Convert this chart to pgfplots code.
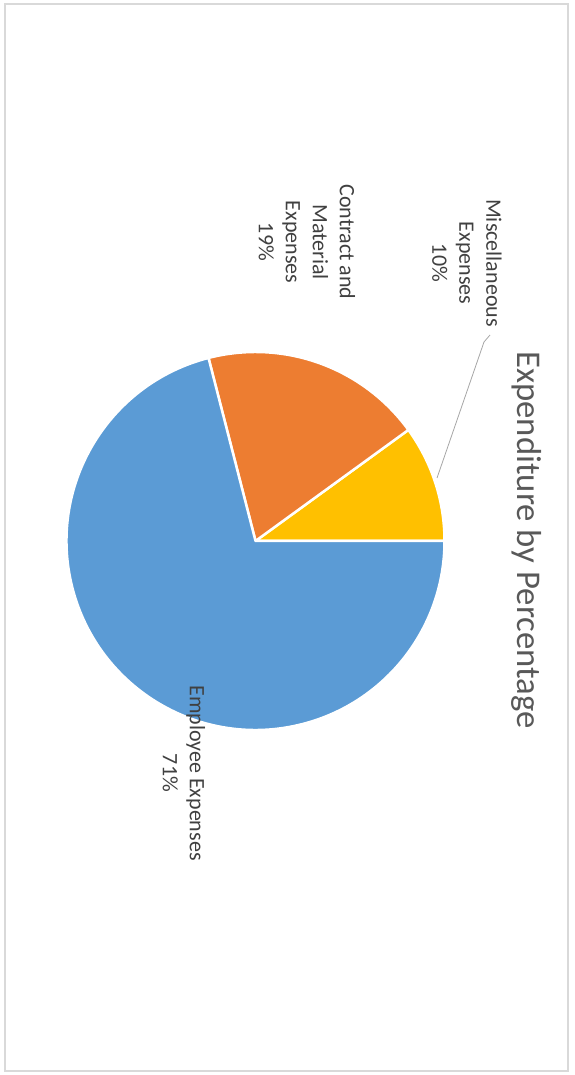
\documentclass[border=0pt]{standalone}
\usepackage{fontspec}
\setmainfont{Carlito}
\usepackage{pgfplots}
\pgfplotsset{compat=1.18}
\definecolor{cBlue}{HTML}{5B9BD5}
\definecolor{cOrange}{HTML}{ED7D31}
\definecolor{cYellow}{HTML}{FFC000}
\definecolor{cTitle}{HTML}{595959}
\definecolor{cLab}{HTML}{404040}
\definecolor{cFrame}{HTML}{D9D9D9}
% percentages: Miscellaneous 10, Contract and Material 19, Employee 71
\def\pMisc{10}
\def\pCont{19}
\def\pEmp{71}
\begin{document}
\begin{tikzpicture}
\begin{axis}[
  x=1pt, y=1pt,
  xmin=0, xmax=574, ymin=0, ymax=1075,
  hide axis, clip=false,
]
\path (axis cs:0,0) rectangle (axis cs:574,1075);
\draw[cFrame, line width=1.2pt] (axis cs:5,4) rectangle (axis cs:568,1071);
% slices (angles from percentages)
\filldraw[fill=cYellow, draw=white, line width=2.5pt, line join=round]
  (axis cs:255.5,534) -- ++(0:189pt) arc[start angle=0, end angle={3.6*\pMisc}, radius=189pt] -- cycle;
\filldraw[fill=cOrange, draw=white, line width=2.5pt, line join=round]
  (axis cs:255.5,534) -- ++({3.6*\pMisc}:189pt) arc[start angle={3.6*\pMisc}, end angle={3.6*(\pMisc+\pCont)}, radius=189pt] -- cycle;
\filldraw[fill=cBlue, draw=white, line width=2.5pt, line join=round]
  (axis cs:255.5,534) -- ++({3.6*(\pMisc+\pCont)}:189pt) arc[start angle={3.6*(\pMisc+\pCont)}, end angle=360, radius=189pt] -- cycle;
% leader line
\draw[gray!70, line width=0.8pt] (axis cs:490,740) -- (axis cs:484,733) -- (axis cs:437,597);
% labels
\node[rotate=-90, align=center, text=cLab, font=\fontsize{22}{27}\selectfont] at (axis cs:467,812) {Miscellaneous\\Expenses\\10\%};
\node[rotate=-90, align=center, text=cLab, font=\fontsize{22}{27}\selectfont] at (axis cs:307,833) {Contract and\\Material\\Expenses\\19\%};
\node[rotate=-90, align=center, text=cLab, font=\fontsize{22}{27}\selectfont] at (axis cs:184,302) {Employee Expenses\\71\%};
% title
\node[rotate=-90, text=cTitle, font=\fontsize{34.7}{42}\selectfont] at (axis cs:527,535) {Expenditure by Percentage};
\end{axis}
\end{tikzpicture}
\end{document}
